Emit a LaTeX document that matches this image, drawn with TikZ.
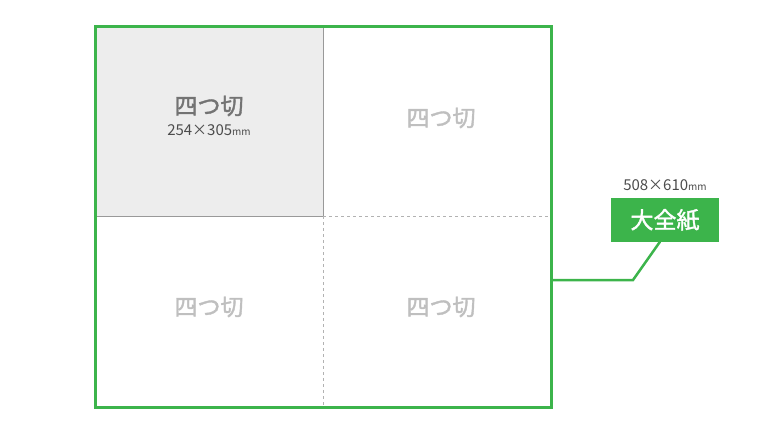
\documentclass[tikz,border=0pt]{standalone}
\usepackage{fontspec}
\setmainfont{Noto Sans CJK JP}
\newfontfamily\medfont{Noto Sans CJK JP}[FakeBold=1.6]
\usetikzlibrary{positioning}
\definecolor{sheetgreen}{RGB}{60,180,75}
\definecolor{quarterfill}{RGB}{237,237,237}
\newcommand{\unitmm}[0]{{\fontsize{10}{10}\selectfont mm}}

\begin{document}
\begin{tikzpicture}[x=1pt,y=-1pt]
\tikzstyle{quarter} = [font=\medfont\fontsize{23}{26}\selectfont, text=black!25, inner sep=0]
\tikzstyle{sizetext} = [font=\fontsize{15}{16}\selectfont, text=black!70, inner sep=0]
\tikzstyle{wholebox} = [rectangle, fill=sheetgreen, text=white, minimum width=108pt, minimum height=43pt, font=\medfont\fontsize{23}{26}\selectfont, inner sep=0]
\tikzstyle{leader} = [sheetgreen, line width=2.5pt]
\tikzstyle{fold} = [black!30, dash pattern=on 3pt off 3pt]

\useasboundingbox (0,0) rectangle (768,422);

% quarter sheets
\fill [quarterfill] (95,27) rectangle (323,216);
\draw [black!40] (323,27) -- (323,216) -- (95,216);
\draw [fold] (323,216) -- (323,407);
\draw [fold] (323,216) -- (551,216);

% full sheet
\draw [sheetgreen, line width=3pt] (95,27) rectangle (551,407);

\node (cut1) [quarter, text=black!55] at (209,106) {四つ切};
\node (size1) [sizetext, below=8pt of cut1] {254×305\unitmm};
\node (cut2) [quarter] at (441,118) {四つ切};
\node (cut3) [quarter] at (209,307) {四つ切};
\node (cut4) [quarter] at (441,307) {四つ切};

\node (whole) [wholebox] at (665,220) {大全紙};
\node (wholesize) [sizetext, above=7pt of whole] {508×610\unitmm};

\coordinate (edge) at (551,280);
\draw [leader] (edge) -- ++(82,0) -- ([xshift=-5pt]whole.south);

\end{tikzpicture}
\end{document}
